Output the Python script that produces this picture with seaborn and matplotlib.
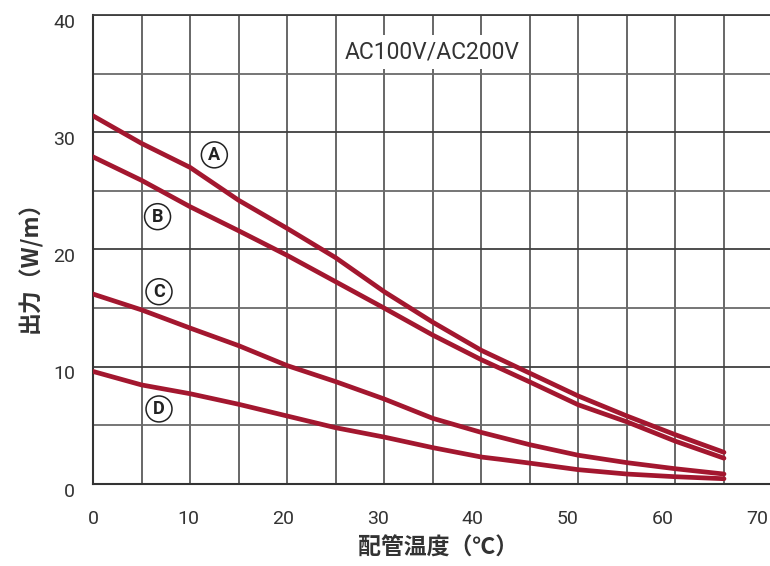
import numpy as np
import pandas as pd
import matplotlib
matplotlib.use("Agg")
import matplotlib.pyplot as plt
import matplotlib.transforms as mtransforms
from matplotlib.ticker import MultipleLocator, FixedLocator
import seaborn as sns

# ---- data ----
temp_A = [0, 5, 10, 15, 20, 25, 30, 35, 40, 45, 50, 55, 60, 65]
out_A = [31.4, 29.05, 27.0, 24.2, 21.8, 19.3, 16.4, 13.8, 11.4, 9.45, 7.5, 5.8, 4.2, 2.7]
temp_B = [0, 5, 10, 15, 20, 25, 30, 35, 40, 45, 50, 55, 60, 65]
out_B = [27.9, 25.9, 23.65, 21.6, 19.5, 17.25, 15.0, 12.7, 10.6, 8.7, 6.75, 5.3, 3.65, 2.2]
temp_C = [0, 5, 10, 15, 20, 25, 30, 35, 40, 45, 50, 55, 60, 65]
out_C = [16.2, 14.85, 13.3, 11.8, 10.1, 8.73, 7.25, 5.6, 4.4, 3.35, 2.45, 1.82, 1.3, 0.85]
temp_D = [0, 5, 10, 15, 20, 25, 30, 35, 40, 42, 45, 50, 55, 60, 65]
out_D = [9.6, 8.45, 7.7, 6.8, 5.8, 4.8, 4.0, 3.1, 2.3, 2.1, 1.78, 1.22, 0.85, 0.62, 0.45]

curve_names = ["A", "B", "C", "D"]
label_pos = {"A": (12.5, 28.07), "B": (6.65, 22.8), "C": (6.8, 16.4), "D": (6.8, 6.4)}
xtick_values = [0, 10, 20, 30, 40, 50, 60, 70]
ytick_values = [0, 10, 20, 30, 40]
title_text = "AC100V/AC200V"
xlabel_text = "配管温度（℃）"
ylabel_text = "出力（W/m）"

frames = []
for name, t, o in zip(curve_names, [temp_A, temp_B, temp_C, temp_D], [out_A, out_B, out_C, out_D]):
    frames.append(pd.DataFrame({"temp": t, "out": o, "curve": name}))
df = pd.concat(frames, ignore_index=True)

# ---- style ----
sns.set_style("white")
plt.rcParams["font.family"] = ["Roboto", "Noto Sans CJK JP", "DejaVu Sans"]

LINE_COLOR = "#A3172F"
GRID_DARK = "#3f3f3f"
GRID_LIGHT = "#6a6a6a"

fig = plt.figure(figsize=(7.7, 5.66), dpi=100)
W, H = 770, 566
ax = fig.add_axes([93 / W, 1 - 484 / H, (770 - 93) / W, (484 - 15) / H])

sns.lineplot(data=df, x="temp", y="out", hue="curve", units="curve", estimator=None,
             palette={n: LINE_COLOR for n in curve_names}, linewidth=3.4,
             legend=False, ax=ax, sort=False, zorder=3)

# axes ranges (grid spacing of the reference: 65 units over 631 px)
ax.set_xlim(0, 65 * 677 / 631)
ax.set_ylim(0, 40)

# grid
ax.xaxis.set_minor_locator(MultipleLocator(5))
ax.yaxis.set_major_locator(FixedLocator(ytick_values))
ax.yaxis.set_minor_locator(MultipleLocator(5))
ax.grid(False)
ax.grid(True, which="minor", axis="x", color=GRID_DARK, linewidth=1.3, alpha=0.85)
ax.grid(True, which="major", axis="y", color=GRID_DARK, linewidth=1.3)
ax.grid(True, which="minor", axis="y", color=GRID_LIGHT, linewidth=1.3)
ax.set_axisbelow(True)

# x tick labels (slightly compressed in the reference)
LABEL_SCALE = 0.9775
ax.set_xticks([v * LABEL_SCALE for v in xtick_values])
ax.set_xticklabels([str(v) for v in xtick_values])
ax.set_yticks(ytick_values)
ax.set_yticklabels([str(v) for v in ytick_values])
ax.tick_params(axis="both", which="both", length=0, labelsize=14, labelcolor="#333333")
ax.tick_params(axis="x", pad=19)
ax.tick_params(axis="y", pad=13)
for lab in ax.get_yticklabels():
    lab.set_transform(lab.get_transform() + mtransforms.ScaledTranslation(0, -4 / 72, fig.dpi_scale_trans))

for s in ["left", "bottom"]:
    ax.spines[s].set_color("#333333")
    ax.spines[s].set_linewidth(1.5)
ax.spines["top"].set_color(GRID_DARK)
ax.spines["top"].set_linewidth(1.3)
ax.spines["right"].set_visible(False)

# labels
ax.set_xlabel(xlabel_text, fontsize=16.5, fontweight="bold", color="#333333",
              family=["Noto Sans CJK JP", "DejaVu Sans"], va="center")
ax.xaxis.set_label_coords((438 - 93) / 677, (484 - 548) / 469)
ax.set_ylabel(ylabel_text, fontsize=16.5, fontweight="bold", color="#333333",
              family=["Noto Sans CJK JP", "DejaVu Sans"], va="center")
ax.yaxis.set_label_coords((30 - 93) / 677, (484 - 261) / 469)

# header text with white box
ax.text(34.9, 36.85, title_text, ha="center", va="center", fontsize=16.5, color="#333333",
        family=["Roboto", "DejaVu Sans"], zorder=4,
        bbox=dict(boxstyle="square,pad=0.25", facecolor="white", edgecolor="none"))

# circled curve labels
for name in curve_names:
    x, y = label_pos[name]
    ax.text(x, y, name, ha="center", va="center", fontsize=13, fontweight="bold",
            color="#222222", family=["Roboto", "DejaVu Sans"], zorder=5,
            bbox=dict(boxstyle="circle,pad=0.22", facecolor="white", edgecolor="#222222", linewidth=1.1))

fig.savefig("out.png", dpi=100)
